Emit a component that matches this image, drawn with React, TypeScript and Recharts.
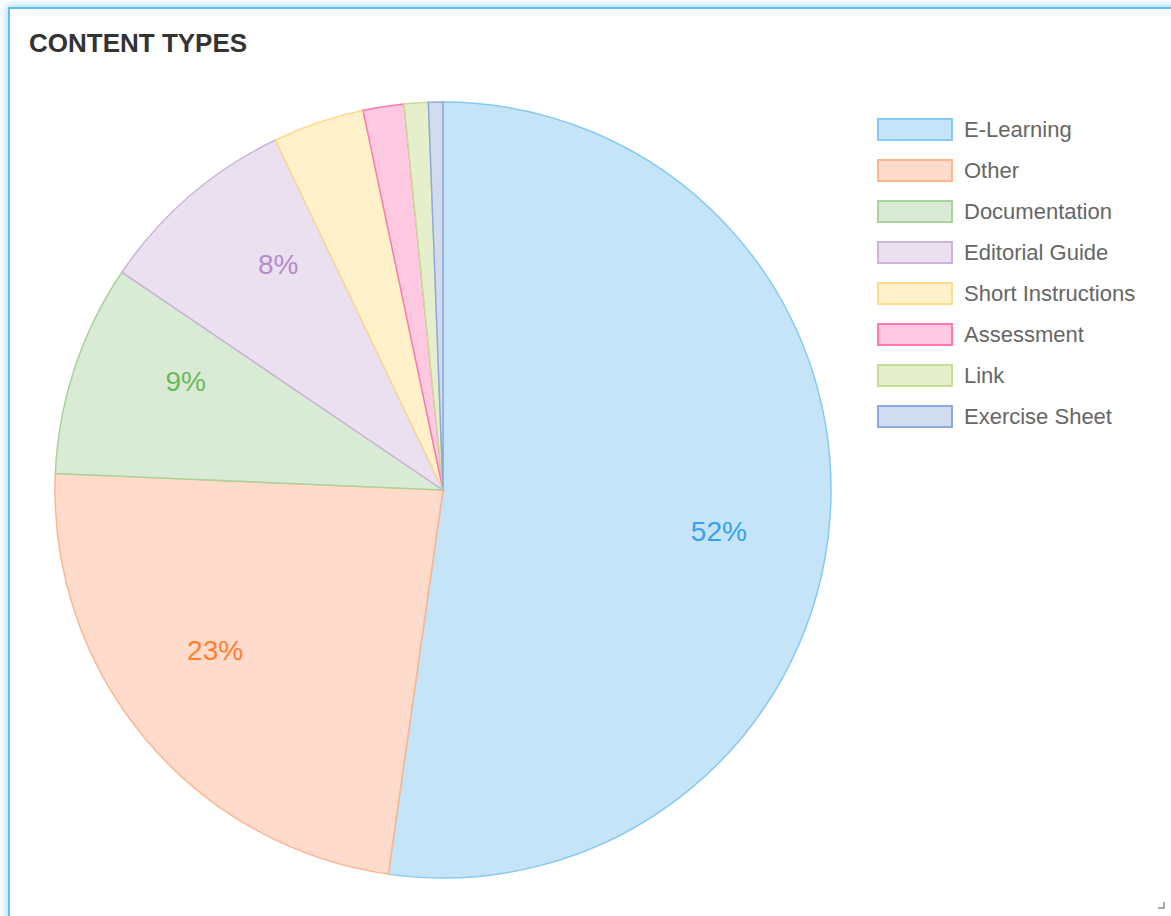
import { PieChart, Pie, Cell, Legend } from "recharts";

const categories = [
  "E-Learning",
  "Other",
  "Documentation",
  "Editorial Guide",
  "Short Instructions",
  "Assessment",
  "Link",
  "Exercise Sheet",
];
const shares = [52.2, 23.4, 8.8, 8.4, 3.8, 1.7, 1.0, 0.6];

const fills = ["#c6e4f7", "#ffdbcb", "#d9ebd4", "#ebe0f0", "#fff1c9", "#ffc9e2", "#e5efcc", "#d2dcf0"];
const strokes = ["#86c9f2", "#ffb58e", "#a8d39b", "#cbb3d9", "#ffdb8c", "#ff78b3", "#c8dd92", "#8ea9de"];
const labelColors = ["#36a2eb", "#ff7f2e", "#6cb85c", "#b48ccb", "#f0b73a", "#ff4f9a", "#a9c45a", "#6688d0"];

const data = categories.map((name, i) => ({ name, value: shares[i] }));
const total = shares.reduce((a, b) => a + b, 0);

const RAD = Math.PI / 180;

// labels sit a little clockwise of the slice middle, like in the original
function renderLabel(props: any) {
  const { cx, cy, midAngle, index, value } = props;
  const pct = (value / total) * 100;
  if (pct < 5) return null;
  const r = 279;
  const a = midAngle - 4.5;
  const x = cx + r * Math.cos(-a * RAD);
  const y = cy + r * Math.sin(-a * RAD);
  return (
    <text
      x={x}
      y={y}
      fill={labelColors[index]}
      textAnchor="middle"
      dominantBaseline="central"
      fontSize={28}
      fontFamily="'Liberation Sans', Arial, sans-serif"
    >
      {`${Math.round(pct)}%`}
    </text>
  );
}

function LegendList() {
  return (
    <div style={{ fontFamily: "'Liberation Sans', Arial, sans-serif", fontSize: 22, color: "#666" }}>
      {categories.map((name, i) => (
        <div key={name} style={{ display: "flex", alignItems: "center", height: 41 }}>
          <span
            style={{
              display: "inline-block",
              boxSizing: "border-box",
              width: 76,
              height: 23,
              background: fills[i],
              border: `2px solid ${strokes[i]}`,
              marginRight: 11,
            }}
          />
          <span>{name}</span>
        </div>
      ))}
    </div>
  );
}

export default function App() {
  return (
    <div style={{ position: "fixed", inset: 0, overflow: "hidden", background: "#fff" }}>
      <div
        style={{
          position: "absolute",
          left: 8,
          top: 7,
          width: 1300,
          height: 1000,
          border: "2px solid #5cc0f7",
          boxShadow: "0 0 7px 2px rgba(120,200,250,0.6)",
          background: "#fff",
        }}
      />
      <div
        style={{
          position: "absolute",
          left: 29,
          top: 28,
          fontFamily: "'Liberation Sans', Arial, sans-serif",
          fontWeight: "bold",
          fontSize: 26,
          color: "#333",
        }}
      >
        CONTENT TYPES
      </div>
      <div style={{ position: "absolute", left: 0, top: 0 }}>
        <PieChart width={1171} height={916} margin={{ top: 0, right: 0, bottom: 0, left: 0 }}>
          <Pie
            data={data}
            dataKey="value"
            nameKey="name"
            cx={443}
            cy={490}
            outerRadius={388}
            startAngle={90}
            endAngle={-270}
            label={renderLabel}
            labelLine={false}
            isAnimationActive={false}
          >
            {data.map((d, i) => (
              <Cell key={d.name} fill={fills[i]} stroke={strokes[i]} strokeWidth={1.5} />
            ))}
          </Pie>
          <Legend
            content={() => <LegendList />}
            wrapperStyle={{ position: "absolute", left: 877, top: 109, width: 294 }}
          />
        </PieChart>
      </div>
      <div
        style={{
          position: "absolute",
          left: 1158,
          top: 902,
          width: 7,
          height: 7,
          borderRight: "2px solid #aaa",
          borderBottom: "2px solid #aaa",
          boxSizing: "border-box",
        }}
      />
    </div>
  );
}
